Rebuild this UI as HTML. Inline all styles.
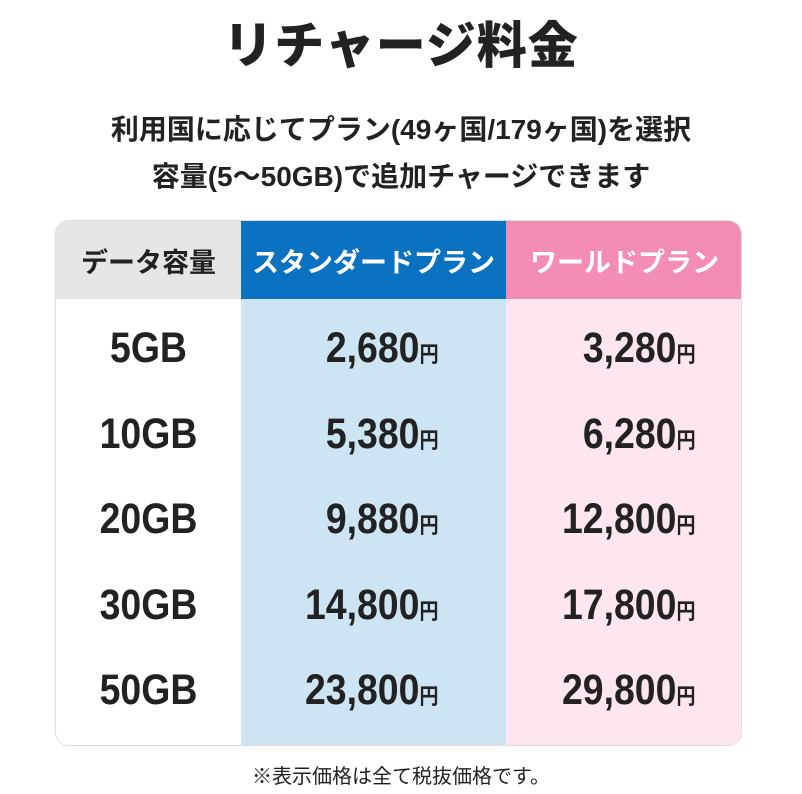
<!DOCTYPE html>
<html><head><meta charset="utf-8">
<style>
body{margin:0;width:802px;height:794px;background:#fff;position:relative;overflow:hidden;font-family:"Liberation Sans","Noto Sans CJK JP",sans-serif;color:#222;}
.abs{position:absolute;}
.title{left:0;width:802px;top:6px;text-align:center;font-size:50px;font-weight:900;letter-spacing:1px;}
.sub{left:0;width:802px;text-align:center;font-size:28px;font-weight:700;}
.table{left:55px;top:220px;width:687px;height:526px;border:1px solid #ddd;border-radius:14px;overflow:hidden;box-sizing:border-box;}
.col{position:absolute;top:0;height:100%;}
.hd{position:absolute;top:0;left:0;width:100%;height:78px;display:flex;align-items:center;justify-content:center;font-size:27px;font-weight:700;}
.cell{position:absolute;font-weight:700;font-size:43px;white-space:nowrap;transform:scaleX(0.87);}
.yen{font-size:22px;}
.foot{left:0;width:802px;top:760px;text-align:center;font-size:20px;}
</style></head><body>
<div class="abs title">リチャージ料金</div>
<div class="abs sub" style="top:108px">利用国に応じてプラン(49ヶ国/179ヶ国)を選択</div>
<div class="abs sub" style="top:155px">容量(5〜50GB)で追加チャージできます</div>
<div class="abs table" id="tbl">
  <div class="col" style="left:0;width:185px;background:#fff">
    <div class="hd" style="background:#e6e6e6;color:#222">データ容量</div>
  </div>
  <div class="col" style="left:185px;width:265px;background:#cde5f3">
    <div class="hd" style="background:#0a72c0;color:#fff">スタンダードプラン</div>
  </div>
  <div class="col" style="left:450px;width:237px;background:#fde6ef">
    <div class="hd" style="background:#f38db4;color:#fff">ワールドプラン</div>
  </div>
</div>
<div class="abs foot">※表示価格は全て税抜価格です。</div>
<script>
const capacities=["5GB","10GB","20GB","30GB","50GB"];
const standardPrices=["2,680","5,380","9,880","14,800","23,800"];
const worldPrices=["3,280","6,280","12,800","17,800","29,800"];
const tbl=document.getElementById('tbl');
capacities.forEach((c,i)=>{
  const top=103+i*85.5;
  const a=document.createElement('div');a.className='cell';
  a.style.left='0';a.style.width='185px';a.style.textAlign='center';a.style.top=top+'px';
  a.textContent=c;
  
  
  tbl.appendChild(a);
  [[standardPrices[i],385,'standard-price'],[worldPrices[i],642,'world-price']].forEach(([v,r,n])=>{
    const d=document.createElement('div');d.className='cell';
    d.style.right=(687-r)+'px';d.style.top=top+'px';d.style.transformOrigin='right center';
    d.innerHTML=v+'<span class="yen">円</span>';
    
    
    tbl.appendChild(d);
  });
});
</script>
</body></html>
